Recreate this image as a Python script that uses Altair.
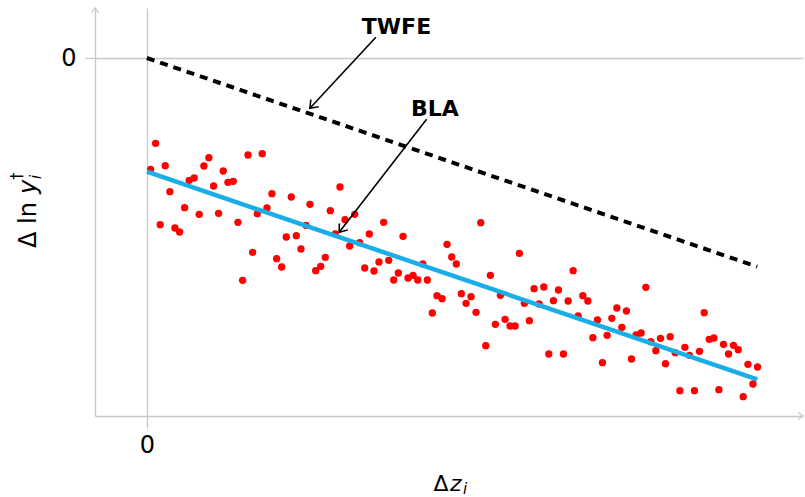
import altair as alt
import pandas as pd

# ---------------- data ----------------
dz = [0.61, 1.43, 2.18, 3.00, 3.77, 4.59, 5.36, 6.18, 6.93, 7.75, 8.57, 9.34, 10.16, 10.93,
      11.75, 12.51, 13.28, 14.15, 14.92, 15.69, 16.56, 17.33, 18.08, 18.90, 19.67, 20.49,
      21.26, 22.08, 22.84, 23.66, 24.48, 25.25, 26.07, 26.72, 27.66, 28.48, 29.23, 30.05,
      30.87, 31.64, 32.46, 33.23, 34.05, 34.87, 35.69, 36.44, 37.21, 38.03, 38.80, 39.62,
      40.44, 41.20, 41.97, 42.79, 43.61, 44.38, 45.20, 45.95, 46.77, 47.54, 48.36, 49.18,
      49.95, 50.70, 51.52, 52.30, 53.11, 53.93, 54.70, 55.52, 56.28, 57.10, 57.92, 58.69,
      59.51, 60.33, 61.03, 61.85, 62.67, 63.44, 64.26, 65.03, 65.85, 66.61, 67.43, 68.25,
      69.02, 69.84, 70.66, 71.43, 72.25, 73.07, 73.82, 74.64, 75.41, 76.18, 77.00, 77.82,
      78.57, 79.39, 80.16, 80.98, 81.75, 82.57, 83.39, 84.15, 84.97, 85.74, 86.56, 87.33,
      88.15, 88.90, 89.72, 90.54, 91.31, 92.13, 92.90, 93.72, 94.48, 95.30, 96.11, 96.89,
      97.70, 98.48, 99.30, 100.05]
dlny = [-1.113, -0.853, -1.667, -1.077, -1.337, -1.700, -1.740, -1.497, -1.223, -1.200,
        -1.563, -1.080, -0.997, -1.280, -1.553, -1.130, -1.243, -1.233, -1.643, -2.223,
        -0.970, -1.943, -1.557, -0.957, -1.500, -1.357, -2.007, -2.090, -1.790, -1.390,
        -1.777, -1.910, -1.673, -1.463, -2.127, -2.083, -1.993, -1.527, -1.760, -1.290,
        -1.617, -1.880, -1.563, -1.847, -2.100, -1.760, -2.130, -2.040, -1.643, -2.023,
        -2.220, -2.150, -1.783, -2.200, -2.173, -2.220, -2.060, -2.220, -2.550, -2.377,
        -2.407, -1.863, -1.990, -2.060, -2.357, -2.453, -2.387, -2.543, -1.647, -2.877,
        -2.173, -2.663, -2.373, -2.613, -2.680, -2.680, -1.953, -2.453, -2.627, -2.307,
        -2.460, -2.290, -2.960, -2.427, -2.320, -2.960, -2.430, -2.127, -2.580, -2.377,
        -2.430, -2.797, -2.620, -3.047, -2.773, -2.603, -2.500, -2.693, -2.530, -3.010,
        -2.770, -2.750, -2.293, -2.837, -2.927, -2.803, -3.057, -2.787, -2.947, -3.327,
        -2.893, -2.973, -3.327, -2.933, -2.547, -2.813, -2.800, -3.317, -2.863, -2.960,
        -2.873, -2.917, -3.387, -3.063, -3.260, -3.090]

twfe_x = [0, 100]
twfe_y = [0, -2.087]
bla_x = [0, 100]
bla_y = [-1.137, -3.213]

label_text = ["TWFE", "BLA"]
label_x = [40.9, 47.2]
label_y = [0.313, -0.513]

arrow_x = [37.52, 45.83]
arrow_y = [0.207, -0.613]
arrow_x2 = [26.71, 31.51]
arrow_y2 = [-0.503, -1.743]
arrow_angle = [132.9, 127.7]

tick_values = [0]
x_domain = [-8.5, 107.5]
y_domain = [-3.58, 0.5]

FONT = "DejaVu Sans"
GRAY = "#c8c8c8"

# ---------------- tables ----------------
pts = pd.DataFrame({"dz": dz, "dlny": dlny})
twfe = pd.DataFrame({"dz": twfe_x, "dlny": twfe_y})
bla = pd.DataFrame({"dz": bla_x, "dlny": bla_y})
labels = pd.DataFrame({"dz": label_x, "dlny": label_y, "txt": label_text})
arrows = pd.DataFrame({"dz": arrow_x, "dlny": arrow_y, "dz2": arrow_x2,
                       "dlny2": arrow_y2, "ang": arrow_angle})
axis_tips = pd.DataFrame({"dz": [x_domain[0], x_domain[1]],
                          "dlny": [y_domain[1], y_domain[0]],
                          "ang": [270, 0]})


def X(field="dz"):
    return alt.X(f"{field}:Q", title=None,
                 scale=alt.Scale(domain=x_domain, nice=False, zero=False),
                 axis=alt.Axis(values=tick_values, grid=True, tickSize=12,
                               labelPadding=5, format="d"))


def Y(field="dlny"):
    return alt.Y(f"{field}:Q", title=None,
                 scale=alt.Scale(domain=y_domain, nice=False, zero=False),
                 axis=alt.Axis(values=tick_values, grid=True, tickSize=10,
                               labelPadding=9, format="d"))


points = alt.Chart(pts).mark_circle(size=54, color="#ff0000", opacity=1).encode(
    x=X(), y=Y())

twfe_line = alt.Chart(twfe).mark_line(color="black", strokeWidth=4,
                                      strokeDash=[8, 6]).encode(x=X(), y=Y())

bla_line = alt.Chart(bla).mark_line(color="#1aaee6", strokeWidth=4.5).encode(
    x=X(), y=Y())

label_marks = alt.Chart(labels).mark_text(font=FONT, fontWeight="bold", fontSize=22,
                                          color="black", baseline="middle").encode(
    x=X(), y=Y(), text="txt:N")

arrow_shafts = alt.Chart(arrows).mark_rule(color="black", strokeWidth=1.6).encode(
    x=X(), y=Y(), x2="dz2:Q", y2="dlny2:Q")

arrow_heads = alt.Chart(arrows).mark_point(
    shape="M-1,-0.75L0,0L-1,0.75", filled=False, stroke="black",
    strokeWidth=1.6, size=200, opacity=1).encode(
    x=X("dz2"), y=Y("dlny2"), angle=alt.Angle("ang:Q", scale=None))

tips = alt.Chart(axis_tips).mark_point(
    shape="M-1,-0.7L0,0L-1,0.7", filled=False, stroke=GRAY,
    strokeWidth=1.3, size=100, opacity=1).encode(
    x=X(), y=Y(), angle=alt.Angle("ang:Q", scale=None))

# axis titles built from text pieces (italic symbols, sub/superscripts)
xt_parts = ["Δ", "z", "i"]
x_title = (
    alt.Chart(pd.DataFrame({"t": [xt_parts[0]]})).mark_text(
        font=FONT, fontSize=22, align="center", baseline="alphabetic")
    .encode(text="t:N", x=alt.value(346), y=alt.value(483))
    + alt.Chart(pd.DataFrame({"t": [xt_parts[1]]})).mark_text(
        font=FONT, fontSize=22, fontStyle="italic", align="left", baseline="alphabetic")
    .encode(text="t:N", x=alt.value(355), y=alt.value(483))
    + alt.Chart(pd.DataFrame({"t": [xt_parts[2]]})).mark_text(
        font=FONT, fontSize=15, fontStyle="italic", align="left", baseline="alphabetic")
    .encode(text="t:N", x=alt.value(368), y=alt.value(486))
)

yt_parts = ["Δ ln", "y", "i", "†"]
y_title = (
    alt.Chart(pd.DataFrame({"t": [yt_parts[0]]})).mark_text(
        font=FONT, fontSize=24, align="left", baseline="alphabetic", angle=270)
    .encode(text="t:N", x=alt.value(-59), y=alt.value(240))
    + alt.Chart(pd.DataFrame({"t": [yt_parts[1]]})).mark_text(
        font=FONT, fontSize=24, fontStyle="italic", align="left",
        baseline="alphabetic", angle=270)
    .encode(text="t:N", x=alt.value(-59), y=alt.value(186))
    + alt.Chart(pd.DataFrame({"t": [yt_parts[2]]})).mark_text(
        font=FONT, fontSize=15, fontStyle="italic", align="left",
        baseline="alphabetic", angle=270)
    .encode(text="t:N", x=alt.value(-54), y=alt.value(171))
    + alt.Chart(pd.DataFrame({"t": [yt_parts[3]]})).mark_text(
        font=FONT, fontSize=15, align="left", baseline="alphabetic", angle=270)
    .encode(text="t:N", x=alt.value(-73), y=alt.value(172))
)

chart = alt.layer(
    points, bla_line, twfe_line, arrow_shafts, arrow_heads, label_marks, tips,
    x_title, y_title
).properties(
    width=708, height=408,
    autosize=alt.AutoSizeParams(type="none"),
    padding={"left": 95, "top": 8, "right": 2, "bottom": 81},
    background="white",
).configure_view(stroke=None).configure_axis(
    domainColor=GRAY, domainWidth=1.3, tickColor=GRAY, tickWidth=1.3,
    gridColor=GRAY, gridWidth=1.3, gridOpacity=1,
    labelFont=FONT, labelFontSize=24, labelColor="black",
)

chart.save("out.html", embed_options={"renderer": "svg", "actions": False})
